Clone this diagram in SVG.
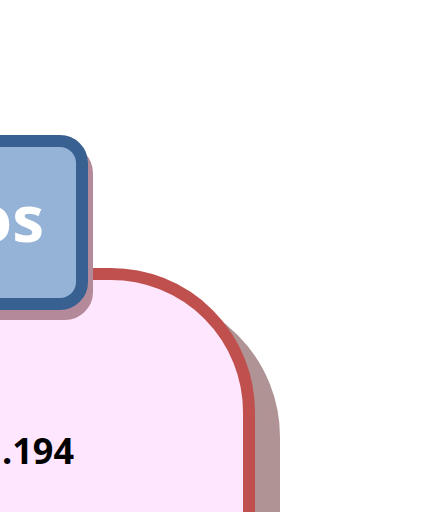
<svg xmlns="http://www.w3.org/2000/svg" width="433" height="512" viewBox="0 0 433 512">
<style>
.lbl{font-family:"Open Sans","Liberation Sans",Arial,sans-serif;font-weight:bold}
</style>
<rect width="433" height="512" fill="#ffffff"/>
<g id="node-pink">
<rect x="-275" y="299" width="549" height="420" rx="138" fill="#b09394" stroke="#b09394" stroke-width="12"/>
<rect x="-300" y="274" width="549" height="420" rx="138" fill="#fee6fe" stroke="#c0504d" stroke-width="12"/>
<text class="lbl" x="74" y="464" font-size="36" fill="#000000" text-anchor="end">.194</text>
</g>
<g id="node-blue">
<rect x="-195" y="151" width="282" height="163" rx="22" fill="#b4899a" stroke="#b4899a" stroke-width="12"/>
<rect x="-200" y="141" width="282" height="163" rx="22" fill="#95b3d7" stroke="#386091" stroke-width="12"/>
<text class="lbl" x="44" y="242" font-size="64" fill="#ffffff" text-anchor="end">os</text>
</g>
<g id="connectors"></g>
</svg>
